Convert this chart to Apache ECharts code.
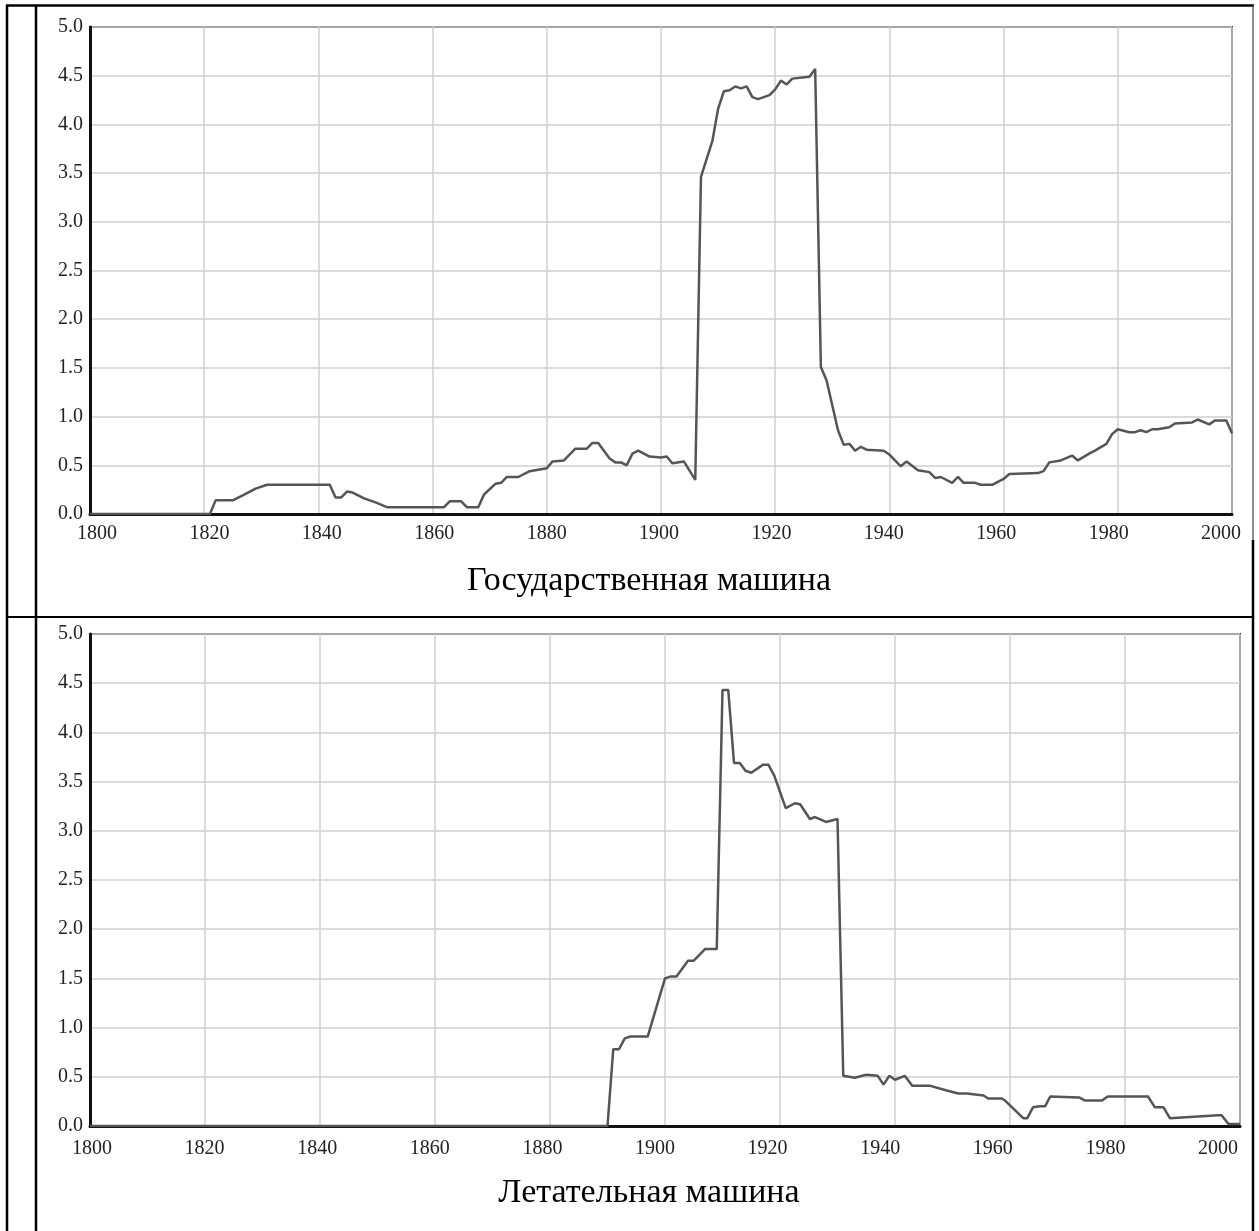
<!DOCTYPE html>
<html>
<head>
<meta charset="utf-8">
<script src="https://cdn.jsdelivr.net/npm/echarts@6/dist/echarts.min.js"></script>
<style>
html,body{margin:0;padding:0;background:#fff;}
#c{width:1259px;height:1231px;}
</style>
</head>
<body>
<div id="c"></div>
<script>
// Chart titles
const titleTop = 'Государственная машина';
const titleBottom = 'Летательная машина';

// Axis ticks
const xMin = 1800, xMax = 2000, xStep = 20;
const xTickLabels = [1800,1820,1840,1860,1880,1900,1920,1940,1960,1980,2000];
const yMin = 0, yMax = 5, yStep = 0.5;

// Series 1: Государственная машина
const govYears = [1800,1821,1822,1825,1827,1829,1831,1842,1843,1844,1845,1846,1848,1850,1852,1862,1863,1865,1866,1868,1869,1871,1872,1873,1875,1877,1880,1881,1883,1885,1887,1888,1889,1891,1892,1893,1894,1895,1896,1898,1900,1901,1902,1904,1906,1907,1909,1910,1911,1912,1913,1914,1915,1916,1917,1918,1919,1920,1921,1922,1923,1926,1927,1928,1929,1931,1932,1933,1934,1935,1936,1939,1940,1942,1943,1945,1947,1948,1949,1951,1952,1953,1955,1956,1958,1960,1961,1966,1967,1968,1970,1972,1973,1975,1976,1978,1979,1980,1982,1983,1984,1985,1986,1987,1989,1990,1993,1994,1996,1997,1999,2000];
const govValues = [0,0,0.14,0.14,0.2,0.26,0.30,0.30,0.17,0.17,0.23,0.22,0.16,0.12,0.07,0.07,0.13,0.13,0.07,0.07,0.20,0.31,0.32,0.38,0.38,0.44,0.47,0.54,0.55,0.67,0.67,0.73,0.73,0.57,0.53,0.53,0.50,0.62,0.65,0.59,0.58,0.59,0.52,0.54,0.35,3.46,3.83,4.16,4.34,4.35,4.39,4.37,4.39,4.28,4.26,4.28,4.30,4.36,4.45,4.41,4.47,4.49,4.57,1.51,1.37,0.86,0.71,0.72,0.65,0.69,0.66,0.65,0.61,0.49,0.54,0.45,0.43,0.37,0.38,0.32,0.38,0.32,0.32,0.30,0.30,0.36,0.41,0.42,0.44,0.53,0.55,0.60,0.55,0.62,0.65,0.72,0.82,0.87,0.84,0.84,0.86,0.84,0.87,0.87,0.89,0.93,0.94,0.97,0.92,0.96,0.96,0.83];

// Series 2: Летательная машина
const flyYears = [1800,1890,1891,1892,1893,1894,1897,1900,1901,1902,1904,1905,1907,1909,1910,1911,1912,1913,1914,1915,1917,1918,1919,1921,1922.6,1923.5,1925.2,1926.1,1928,1930,1931,1932,1933,1935,1937,1938,1939,1940,1941.7,1943,1946,1949,1951,1952.5,1955.4,1956.2,1958.6,1959.1,1962.3,1963,1964,1965.2,1966.1,1967,1972,1973,1976,1977,1984,1985.2,1986.7,1987.8,1996.2,1996.8,1998,2000];
const flyValues = [0,0,0.78,0.78,0.89,0.91,0.91,1.50,1.52,1.52,1.68,1.68,1.80,1.80,4.43,4.43,3.69,3.69,3.61,3.59,3.67,3.67,3.56,3.23,3.28,3.27,3.12,3.14,3.09,3.12,0.51,0.50,0.49,0.52,0.51,0.42,0.51,0.47,0.51,0.41,0.41,0.36,0.33,0.33,0.31,0.28,0.28,0.26,0.08,0.08,0.19,0.20,0.20,0.30,0.29,0.26,0.26,0.30,0.30,0.19,0.19,0.08,0.11,0.11,0.02,0.02];

const pairs = (xs, ys) => xs.map((x, i) => [x, ys[i]]);

const font = 'Liberation Serif, Times New Roman, serif';
const gridDefs = [
  {left: 90, top: 27, width: 1142, height: 487},
  {left: 90, top: 634, width: 1150, height: 492}
];
// label axes are drawn slightly compressed, as in the source image
const labelRanges = [[1798.75, 2001.95], [1799.65, 2003.9]];
const labelMargins = [10, 13];

function xAxisDef(gi){
  return {
    type: 'value', gridIndex: gi, min: xMin, max: xMax, interval: xStep,
    axisLine: {show: true, lineStyle: {color: '#111', width: 3}},
    axisTick: {show: false},
    axisLabel: {show: false},
    splitLine: {show: true, lineStyle: {color: '#cfcfcf', width: 1.5}}
  };
}
function xLabelAxisDef(gi){
  return {
    type: 'value', gridIndex: gi, position: 'bottom',
    min: labelRanges[gi][0], max: labelRanges[gi][1],
    axisLine: {show: false}, axisTick: {show: false}, splitLine: {show: false},
    axisLabel: {show: true, customValues: xTickLabels, color: '#222', fontFamily: font,
      fontSize: 20, margin: labelMargins[gi], formatter: v => String(Math.round(v))}
  };
}
function yAxisDef(gi){
  return {
    type: 'value', gridIndex: gi, min: yMin, max: yMax, interval: yStep,
    axisLine: {show: true, lineStyle: {color: '#111', width: 3}},
    axisTick: {show: false},
    axisLabel: {color: '#222', fontFamily: font, fontSize: 20, margin: 7,
      formatter: v => v.toFixed(1)},
    splitLine: {show: true, lineStyle: {color: '#cfcfcf', width: 1.5}}
  };
}

const line = (x1, y1, x2, y2, w, c) => ({
  type: 'line', silent: true,
  shape: {x1, y1, x2, y2},
  style: {stroke: c || '#000', lineWidth: w || 2.5}
});

const chart = echarts.init(document.getElementById('c'), null, {renderer: 'canvas'});
chart.setOption({
  animation: false,
  backgroundColor: '#fff',
  title: [
    {text: titleTop, left: 644, top: 559, textAlign: 'center',
      textStyle: {fontFamily: font, fontSize: 34, fontWeight: 'normal', color: '#000'}},
    {text: titleBottom, left: 644, top: 1171, textAlign: 'center',
      textStyle: {fontFamily: font, fontSize: 34, fontWeight: 'normal', color: '#000'}}
  ],
  grid: gridDefs.map(g => Object.assign({show: true, borderColor: '#333', borderWidth: 2, backgroundColor: 'transparent'}, g)),
  xAxis: [xAxisDef(0), xAxisDef(1), xLabelAxisDef(0), xLabelAxisDef(1)],
  yAxis: [yAxisDef(0), yAxisDef(1)],
  series: [
    {type: 'line', xAxisIndex: 0, yAxisIndex: 0, data: pairs(govYears, govValues),
      showSymbol: false, lineStyle: {color: '#555', width: 2.5}, z: 5},
    {type: 'line', xAxisIndex: 1, yAxisIndex: 1, data: pairs(flyYears, flyValues),
      showSymbol: false, lineStyle: {color: '#555', width: 2.5}, z: 5}
  ],
  graphic: [
    line(7, 5, 7, 1231, 2.5),
    line(36, 5, 36, 1231, 2.5),
    line(6, 5.5, 1254, 5.5, 2.5),
    line(6, 617, 1254, 617, 2),
    line(1253, 5, 1253, 540, 1.2, '#444'),
    line(1253, 540, 1253, 1231, 2.5)
  ]
});
</script>
</body>
</html>
